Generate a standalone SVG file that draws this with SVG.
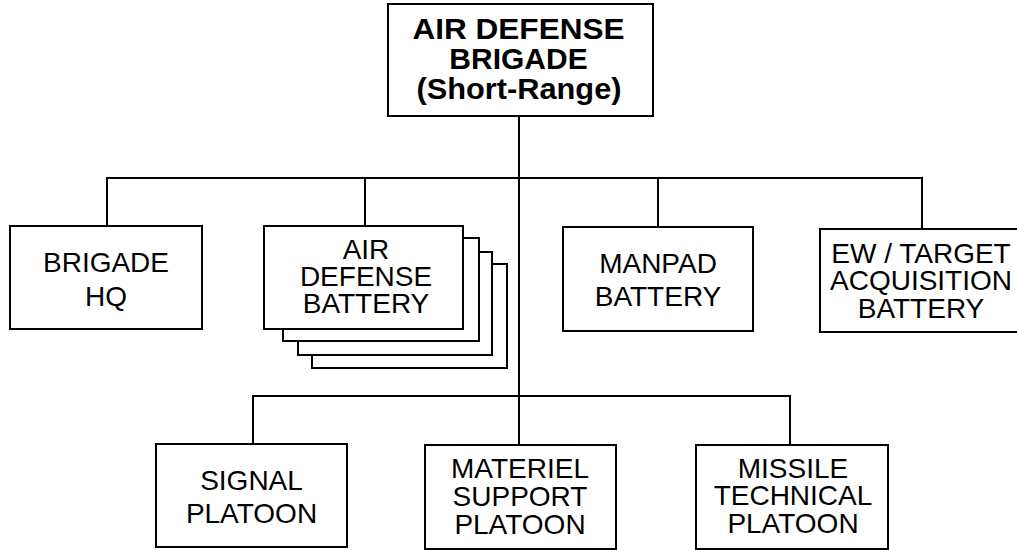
<svg xmlns="http://www.w3.org/2000/svg" width="1017" height="550" viewBox="0 0 1017 550">
<style>
.box{fill:#fff;stroke:#000;stroke-width:2}
.ln{fill:none;stroke:#000;stroke-width:2}
text{font-family:"Liberation Sans",Arial,sans-serif;font-size:28px;fill:#000;text-anchor:middle}
.b{font-weight:bold;font-size:30px}
</style>
<rect width="1017" height="550" fill="#fff"/>
<g id="connectors" class="ln">
<path d="M519 116V396"/>
<path d="M107 226V178H922V229"/>
<path d="M365 178V226"/>
<path d="M658 178V227"/>
<path d="M253 444V396H790V445"/>
<path d="M519 396V445"/>
</g>
<g id="brigade">
<rect class="box" x="388" y="4" width="265" height="112"/>
<text class="b" x="518.5" y="39" textLength="212" lengthAdjust="spacingAndGlyphs">AIR DEFENSE</text>
<text class="b" x="518.5" y="68.5">BRIGADE</text>
<text class="b" x="519" y="98.5" textLength="205" lengthAdjust="spacingAndGlyphs">(Short-Range)</text>
</g>
<g id="brigade-hq">
<rect class="box" x="10" y="226" width="192" height="103"/>
<text x="106" y="272">BRIGADE</text>
<text x="106" y="306">HQ</text>
</g>
<g id="ad-battery">
<rect class="box" x="312" y="264" width="195" height="104"/>
<rect class="box" x="298" y="252" width="194" height="103"/>
<rect class="box" x="283" y="238" width="196" height="103"/>
<rect class="box" x="264" y="226" width="199" height="103"/>
<text x="366" y="259">AIR</text>
<text x="366" y="286">DEFENSE</text>
<text x="366" y="313">BATTERY</text>
</g>
<g id="manpad">
<rect class="box" x="563" y="227" width="190" height="104"/>
<text x="658" y="273">MANPAD</text>
<text x="658" y="306">BATTERY</text>
</g>
<g id="ew-ta">
<rect class="box" x="820" y="229" width="210" height="103"/>
<text x="921" y="262.5">EW / TARGET</text>
<text x="921" y="290">ACQUISITION</text>
<text x="921" y="317.5">BATTERY</text>
</g>
<g id="signal">
<rect class="box" x="156" y="444" width="191" height="103"/>
<text x="251.5" y="490">SIGNAL</text>
<text x="251.5" y="523">PLATOON</text>
</g>
<g id="materiel">
<rect class="box" x="425" y="445" width="191" height="104"/>
<text x="520" y="478">MATERIEL</text>
<text x="520" y="506">SUPPORT</text>
<text x="520" y="533.5">PLATOON</text>
</g>
<g id="missile">
<rect class="box" x="696" y="445" width="192" height="104"/>
<text x="793" y="477.5">MISSILE</text>
<text x="793" y="505">TECHNICAL</text>
<text x="793" y="532.5">PLATOON</text>
</g>
</svg>
